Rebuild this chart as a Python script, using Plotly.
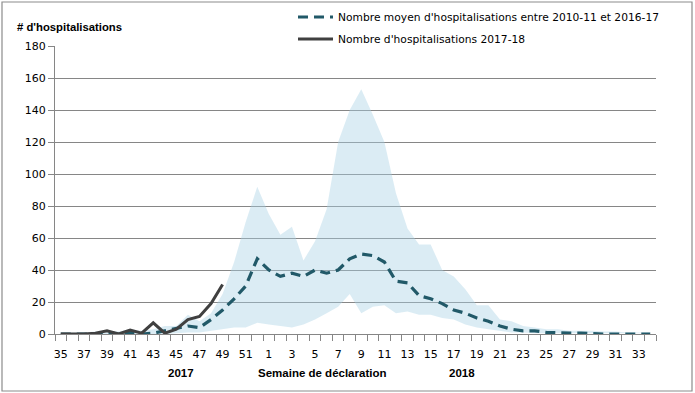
import plotly.graph_objects as go

weeks = [str(w) for w in range(35, 53)] + [str(w) for w in range(1, 35)]

band_low = [0, 0, 0, 0, 0, 0, 0, 0, 0, 0, 0.5, 1, 1, 2, 3, 4, 4, 7,
            6, 5, 4, 6, 9, 13, 17, 25, 13, 17, 18, 13, 14, 12, 12, 10, 9, 6,
            4, 3, 2, 1, 1, 0.5, 0.5, 0.5, 0.5, 0.5, 0.5, 0.5, 0.5, 0.5, 0.5, 0.5]
band_high = [1, 1, 1, 1.5, 2, 1.5, 3, 2, 3, 5, 5, 12, 8, 13, 25, 45, 70, 92,
             75, 62, 67, 46, 58, 78, 120, 140, 153, 137, 120, 88, 66, 56, 56, 40, 36, 28,
             18, 18, 9, 8, 5, 4, 3, 3, 2, 2, 2, 1.5, 1.5, 1, 1, 1]
mean_hosp = [0, 0, 0, 0, 1, 0, 1, 0, 0.5, 2, 3, 5, 4, 9, 15, 22, 30, 47,
             40, 36, 38, 36, 40, 38, 40, 47, 50, 49, 45, 33, 32, 24, 22, 19, 15, 13,
             10, 8, 5, 3, 2, 2, 1, 0.5, 0.5, 0.5, 0, 0, 0, 0, 0, 0]
hosp_1718 = [0, 0, 0, 0.5, 2, 0, 2.5, 0.5, 7, 0.5, 3, 9, 11, 19, 31]

W, H = 695, 393
L, R, T, B = 55, 656, 46, 334
pw, ph = R - L, B - T

def px(x):
    return (x - L) / pw

def py(y):
    return (B - y) / ph

idx = list(range(len(weeks)))
font = "DejaVu Sans"
bold_font = "Liberation Sans"

fig = go.Figure()
fig.add_trace(go.Scatter(x=idx, y=band_low, mode="lines", line=dict(width=0),
                         showlegend=False, hoverinfo="skip"))
fig.add_trace(go.Scatter(x=idx, y=band_high, mode="lines", line=dict(width=0),
                         fill="tonexty", fillcolor="rgba(170,210,228,0.42)",
                         showlegend=False, hoverinfo="skip"))
fig.add_trace(go.Scatter(x=idx, y=mean_hosp, mode="lines",
                         name="Nombre moyen d'hospitalisations entre 2010-11 et 2016-17",
                         line=dict(color="#215968", width=3.2, dash="10px,6px"),
                         legend="legend"))
fig.add_trace(go.Scatter(x=idx[:len(hosp_1718)], y=hosp_1718, mode="lines",
                         name="Nombre d'hospitalisations 2017-18",
                         line=dict(color="#404040", width=3),
                         legend="legend2"))

leg_common = dict(xanchor="left", yanchor="middle", bgcolor="rgba(0,0,0,0)",
                  font=dict(size=10.7, family=font), itemwidth=35)

fig.update_layout(
    width=W, height=H,
    margin=dict(l=L, r=W - R, t=T, b=H - B, autoexpand=False),
    paper_bgcolor="white", plot_bgcolor="white",
    font=dict(family=font, size=11, color="#000000"),
    legend=dict(x=px(293), y=py(17), **leg_common),
    legend2=dict(x=px(293), y=py(39), **leg_common),
    xaxis=dict(range=[-0.5, len(weeks) - 0.5],
               tickvals=idx[::2], ticktext=weeks[::2], ticks="outside",
               ticklen=10, tickcolor="rgba(0,0,0,0)",
               showgrid=False, showline=True, linecolor="#868686", linewidth=1,
               zeroline=False, tickfont=dict(size=11),
               minor=dict(tickmode="linear", tick0=-0.5, dtick=1, ticks="outside",
                          ticklen=6, tickcolor="#868686", showgrid=False)),
    yaxis=dict(range=[0, 180], dtick=20, showgrid=True, gridcolor="#868686",
               gridwidth=1, showline=True, linecolor="#868686", linewidth=1,
               ticks="outside", ticklen=6, tickcolor="#868686", zeroline=False,
               tickfont=dict(size=11)),
)

fig.add_annotation(x=px(15), y=py(27), xref="paper", yref="paper",
                   xanchor="left", yanchor="middle", showarrow=False,
                   text="<b># d'hospitalisations</b>",
                   font=dict(size=11.3, family=bold_font))
for label, xc in [("2017", 181), ("Semaine de déclaration", 322), ("2018", 462)]:
    fig.add_annotation(x=px(xc), y=py(373), xref="paper", yref="paper",
                       xanchor="center", yanchor="middle", showarrow=False,
                       text="<b>" + label + "</b>",
                       font=dict(size=11.5, family=bold_font))

fig.add_shape(type="rect", xref="paper", yref="paper",
              x0=px(2), x1=px(692), y0=py(391), y1=py(2),
              line=dict(color="#8c8c8c", width=1.2), fillcolor="rgba(0,0,0,0)",
              layer="above")

fig.write_html("out.html", config={"displayModeBar": False},
               post_script="document.body.style.margin='0';document.body.style.overflow='hidden';")
